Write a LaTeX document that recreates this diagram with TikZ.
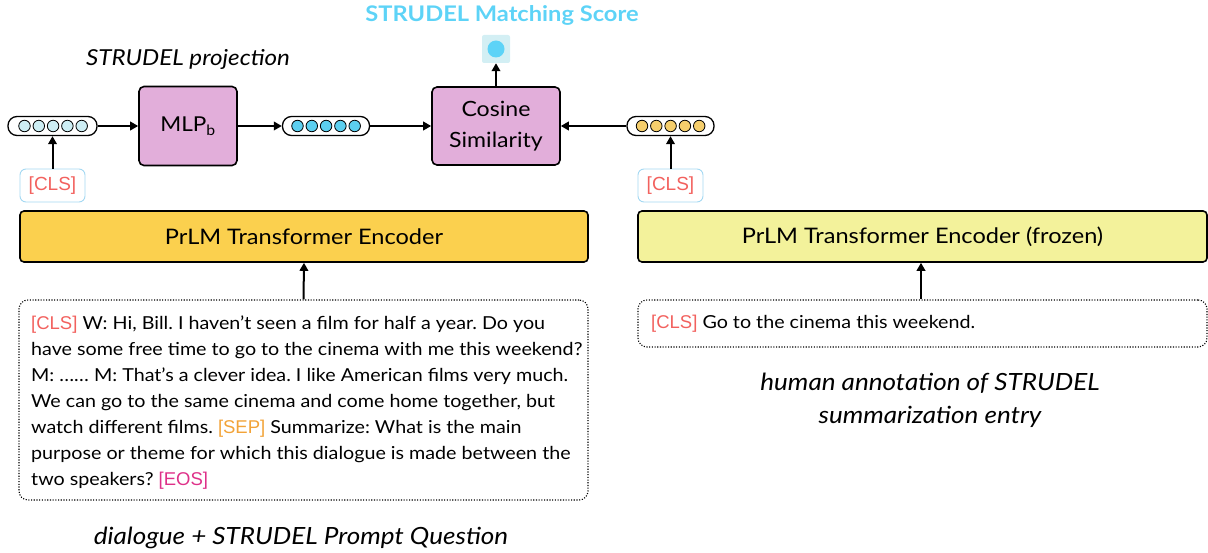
\documentclass[tikz,border=0pt]{standalone}
\usepackage{fontspec}
\setmainfont{Lato}[FakeStretch=1.1]
\newfontfamily\arialf{Liberation Sans}
\usetikzlibrary{arrows.meta}
\definecolor{scorecyan}{HTML}{5DD3F7}
\definecolor{scorebg}{HTML}{D3EFF4}
\definecolor{mlppink}{HTML}{E2AEDA}
\definecolor{encgold}{HTML}{FBD04E}
\definecolor{encpale}{HTML}{F3F29B}
\definecolor{clsred}{HTML}{F2615E}
\definecolor{clsborder}{HTML}{A3D8F2}
\definecolor{sepor}{HTML}{F2A338}
\definecolor{eosmag}{HTML}{DE3189}
\definecolor{dotlight}{HTML}{CDEEF4}
\definecolor{dotcyan}{HTML}{5CCFEF}
\definecolor{dotyel}{HTML}{F5CE6C}
\tikzset{
  arr/.style={-{Triangle[length=8pt,width=8.5pt]}, line width=2pt},
  procbox/.style={draw, line width=1.6pt, rounded corners=5pt, fill=mlppink, inner sep=0pt},
  encbox/.style={draw, line width=1.6pt, rounded corners=4pt, inner sep=0pt, font=\fontsize{21.4}{24}\selectfont},
  clsbox/.style={draw=clsborder, line width=0.9pt, rounded corners=6pt, minimum width=65pt, minimum height=33pt, inner sep=0pt, text=clsred, font=\arialf\fontsize{19}{22}\selectfont},
  pill/.style={draw, line width=1.3pt, rounded corners=9pt, minimum width=89pt, minimum height=19pt, inner sep=0pt},
  dot/.style={circle, draw, line width=0.8pt, minimum size=11.5pt, inner sep=0pt},
  txtbox/.style={draw, dash pattern=on 1.1pt off 1.6pt, line width=1.1pt, rounded corners=9pt, inner sep=0pt},
  bodytext/.style={inner sep=0pt, align=left, anchor=north west, font=\fontsize{17.9}{26}\selectfont},
  captext/.style={font=\itshape\fontsize{23.7}{33}\selectfont, align=center},
}
\newcommand{\cls}{{\arialf\fontsize{18.5}{26}\selectfont\color{clsred}[CLS]}}
\newcommand{\tok}[2]{{\arialf\fontsize{18.5}{26}\selectfont\color{#1}#2}}
\begin{document}
\frenchspacing
\begin{tikzpicture}[x=1pt,y=-1pt]
\useasboundingbox (0,0) rectangle (1208,553);
% title and score
\node[text=scorecyan, font=\bfseries\fontsize{21.5}{24}\selectfont] (title) at (502,15) {STRUDEL Matching Score};
\node[fill=scorebg, rounded corners=2pt, minimum size=28pt, inner sep=0pt] (score) at (496,49) {};
\node[circle, fill=scorecyan, minimum size=17pt, inner sep=0pt] (scoredot) at (496,49) {};
\node[font=\itshape\fontsize{22}{24}\selectfont] (proj) at (188,59) {STRUDEL projection};
% boxes
\node[procbox, minimum width=98pt, minimum height=79pt, font=\fontsize{20.5}{24}\selectfont] (mlp) at (188,126) {MLP\textsubscript{b}};
\node[procbox, minimum width=128pt, minimum height=78pt, align=center, font=\fontsize{21}{31}\selectfont] (cos) at (496,126) {Cosine\\Similarity};
% pills
\node[pill, minimum width=89pt] (p1) at (52.5,126) {};
\node[pill, minimum width=87pt] (p2) at (326,126) {};
\node[pill, minimum width=87pt] (p3) at (670.5,126) {};
\foreach \i in {0,...,4} {
  \node[dot, fill=dotlight] (a\i) at ({24.5+14.3*\i},126) {};
  \node[dot, fill=dotcyan] (b\i) at ({297.5+14.3*\i},126) {};
  \node[dot, fill=dotyel] (c\i) at ({642+14.3*\i},126) {};
}
% cls
\node[clsbox] (cls1) at (52.5,185.5) {[CLS]};
\node[clsbox] (cls2) at (670.5,185.5) {[CLS]};
% encoders
\node[encbox, fill=encgold, minimum width=568pt, minimum height=51pt] (enc1) at (304,236.5) {PrLM Transformer Encoder};
\node[encbox, fill=encpale, minimum width=569pt, minimum height=51pt] (enc2) at (922.5,236.5) {PrLM Transformer Encoder (frozen)};
% text boxes
\node[txtbox, minimum width=569pt, minimum height=200pt] (dlg) at (303.5,400) {};
\node[bodytext] (dlgtext) at (31,316) {\cls{} W: Hi, Bill. I haven't seen a film for half a year. Do you\\
have some free time to go to the cinema with me this weekend?\\
M: \ldots\ldots\ M: That's a clever idea. I like American films very much.\\
We can go to the same cinema and come home together, but\\
watch different films. \tok{sepor}{[SEP]} Summarize: What is the main\\
purpose or theme for which this dialogue is made between the\\
two speakers? \tok{eosmag}{[EOS]}};
\node[txtbox, minimum width=569pt, minimum height=47pt] (hum) at (922.5,323.5) {};
\node[bodytext] (humtext) at (651,315) {\cls{} Go to the cinema this weekend.};
% captions
\node[captext] (cap1) at (301,538) {dialogue + STRUDEL Prompt Question};
\node[captext] (cap2) at (930,400) {human annotation of STRUDEL\\summarization entry};
% arrows
\draw[arr] (cos.north) -- (score.south);
\draw[arr] (p1.east) -- (mlp.west);
\draw[arr] (mlp.east) -- (p2.west);
\draw[arr] (p2.east) -- (cos.west);
\draw[arr] (p3.west) -- (cos.east);
\draw[arr] (cls1.north) -- (p1.south);
\draw[arr] (cls2.north) -- (p3.south);
\draw[arr] (dlg.north) -- (enc1.south);
\draw[arr] (hum.north -| 921,0) -- (enc2.south -| 921,0);
\end{tikzpicture}
\end{document}
